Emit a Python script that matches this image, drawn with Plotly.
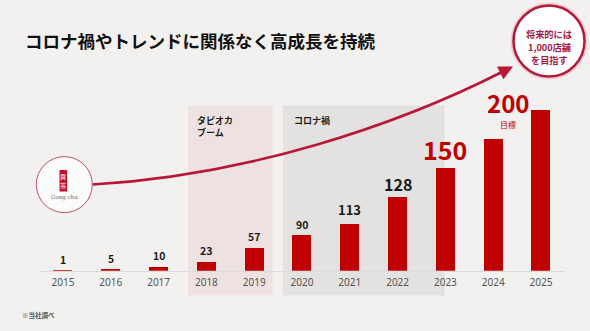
import plotly.graph_objects as go

# ---------------- data ----------------
years = ["2015", "2016", "2017", "2018", "2019", "2020", "2021", "2022", "2023", "2024", "2025"]
# displayed bar heights (infographic scale)
bar_height = [0.8, 2.0, 3.7, 9.0, 22.7, 36.0, 46.7, 74.4, 103.0, 132.4, 161.4]
# store counts shown as labels
store_labels = ["1", "5", "10", "23", "57", "90", "113", "128", "150", "", "200"]

title_text = "コロナ禍やトレンドに関係なく高成長を持続"
footnote_text = "※当社調べ"
box_tapioca_text = "タピオカ<br>ブーム"
box_corona_text = "コロナ禍"
target_lines = ["将来的には", "1,000店舗", "を目指す"]
goal_text = "目標"
logo_chars = ["貢", "茶"]
logo_name = "Gong cha"

# ---------------- styles ----------------
W, H = 590, 331
BG = "#f2f1ef"
RED = "#c00000"
CRIMSON = "#b8173a"
FONT = "Noto Sans CJK JP"

label_size = [10.5, 10.5, 10.5, 10.5, 10.5, 10.5, 13, 16, 25, 10, 24]
label_color = ["#1a1a1a"] * 8 + ["#c00000", "#c00000", "#c00000"]
label_gap = [10, 10.7, 11.3, 11, 11.3, 10.7, 14.7, 12.3, 18.4, 0, 7]
label_dx = [0, 0, 0, 0, 0, 0, 0, 0, 0, 0, -0.7]


def px(x):
    return x / W


def py(y):
    return 1 - y / H


def note(x, y, text, size, color, xanchor="center", family=FONT, align="center"):
    fig.add_annotation(x=px(x), y=py(y), xref="paper", yref="paper", text=text,
                       showarrow=False, xanchor=xanchor, yanchor="middle", align=align,
                       font=dict(family=family, size=size, color=color))


idx = list(range(len(years)))

fig = go.Figure()
fig.add_trace(go.Bar(
    x=idx, y=bar_height, width=0.4,
    marker=dict(color=RED, line=dict(width=0)),
    hoverinfo="skip",
))

# bar labels
for i, (lab, h) in enumerate(zip(store_labels, bar_height)):
    if not lab:
        continue
    fig.add_annotation(
        x=i + label_dx[i], y=h, xref="x", yref="y", text=f"<b>{lab}</b>",
        showarrow=False, yanchor="middle", xanchor="center", yshift=label_gap[i],
        font=dict(family=FONT, size=label_size[i], color=label_color[i]),
    )

# "目標" below the 200 label
fig.add_annotation(
    x=10 + label_dx[10], y=bar_height[10], xref="x", yref="y", text=goal_text,
    showarrow=False, yanchor="middle", xanchor="center", yshift=-15,
    font=dict(family=FONT, size=8, color=RED),
)

# shaded period boxes
fig.add_shape(type="rect", xref="x", yref="paper", x0=3 - 0.38, x1=4 + 0.385,
              y0=py(295.5), y1=py(105.5), fillcolor="#ede2e1", line=dict(width=0), layer="below")
fig.add_shape(type="rect", xref="x", yref="paper", x0=5 - 0.4, x1=8 - 0.02,
              y0=py(295.5), y1=py(105.5), fillcolor="#e3e2e0", line=dict(width=0), layer="below")
note(195, 126.5, f"<b>{box_tapioca_text}</b>", 9, "#222", xanchor="left", align="left")
note(291.5, 121, f"<b>{box_corona_text}</b>", 9, "#222", xanchor="left", align="left")

# growth curve
p0, p1, p2, p3 = (92.5, 184.5), (250, 175), (398, 125), (504, 71)
path = "M {},{} C {},{} {},{} {},{}".format(
    px(p0[0]), py(p0[1]), px(p1[0]), py(p1[1]), px(p2[0]), py(p2[1]), px(p3[0]), py(p3[1]))
fig.add_shape(type="path", path=path, xref="paper", yref="paper",
              line=dict(color=CRIMSON, width=2.6), layer="above")
fig.add_annotation(x=px(513), y=py(66.5), xref="paper", yref="paper", text="",
                   showarrow=True, ax=-16, ay=8, arrowhead=2, arrowsize=1.1,
                   arrowwidth=2.6, arrowcolor=CRIMSON)

# Gong cha logo circle
cx, cy, r = 64.3, 184.6, 28
fig.add_shape(type="circle", xref="paper", yref="paper",
              x0=px(cx - r), x1=px(cx + r), y0=py(cy + r), y1=py(cy - r),
              fillcolor="#fbfbfb", line=dict(color="#c2506a", width=1), layer="above")
fig.add_shape(type="rect", xref="paper", yref="paper",
              x0=px(59.5), x1=px(67), y0=py(191.5), y1=py(170),
              fillcolor="#c8102e", line=dict(width=0), layer="above")
note(63.3, 176.2, logo_chars[0], 6, "white")
note(63.3, 185.4, logo_chars[1], 6, "white")
note(64, 197.5, logo_name, 5.5, "#666", family="DejaVu Serif")

# target circle
tx, ty, tr = 549, 41, 35.5
fig.add_shape(type="circle", xref="paper", yref="paper",
              x0=px(tx - tr - 1.5), x1=px(tx + tr + 1.5), y0=py(ty + tr + 1.5), y1=py(ty - tr - 1.5),
              fillcolor="rgba(0,0,0,0)", line=dict(color="rgba(200,60,90,0.18)", width=3), layer="above")
fig.add_shape(type="circle", xref="paper", yref="paper",
              x0=px(tx - tr), x1=px(tx + tr), y0=py(ty + tr), y1=py(ty - tr),
              fillcolor="white", line=dict(color=CRIMSON, width=2.5), layer="above")
for k, line in enumerate(target_lines):
    note(tx, 34 + 13 * k, f"<b>{line}</b>", 9.2, "#a8193c")

# title & footnote
note(22.5, 40, f"<b>{title_text}</b>", 17.5, "#111", xanchor="left")
note(20, 315, f"<b>{footnote_text}</b>", 6.5, "#555", xanchor="left")

fig.update_layout(
    width=W, height=H,
    margin=dict(l=0, r=0, t=0, b=0),
    paper_bgcolor=BG, plot_bgcolor="rgba(0,0,0,0)",
    showlegend=False,
    xaxis=dict(domain=[39.1 / W, 564.9 / W], range=[-0.5, 10.5],
               tickmode="array", tickvals=idx, ticktext=years,
               showgrid=False, zeroline=False, showline=True, linecolor="#dcdcdc", linewidth=1,
               ticks="", ticklabelstandoff=2,
               tickfont=dict(family="Noto Sans", size=10, color="#555"), fixedrange=True),
    yaxis=dict(domain=[(H - 270.7) / H, (H - 90.7) / H], range=[0, 180],
               visible=False, fixedrange=True),
    bargap=0,
)

fig.write_html("out.html")
